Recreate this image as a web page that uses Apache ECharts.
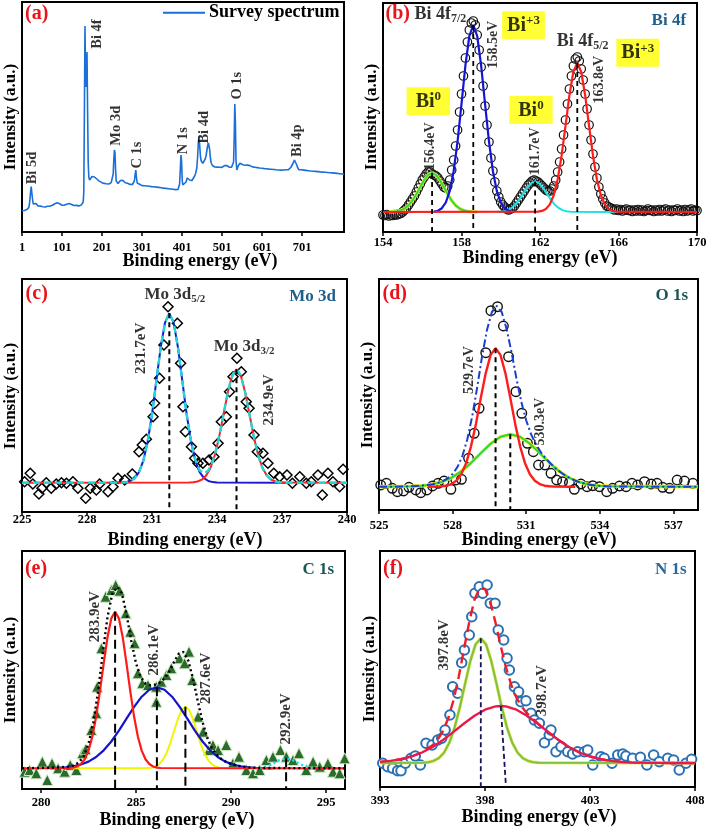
<!DOCTYPE html>
<html><head><meta charset="utf-8">
<script src="https://cdn.jsdelivr.net/npm/echarts@6/dist/echarts.min.js"></script>
<style>html,body{margin:0;padding:0;background:#fff}#c{width:709px;height:829px}</style>
</head><body><div id="c"></div>
<script>
// ---------------- DATA ----------------
// (a) survey spectrum [binding energy, intensity a.u.]
const surveySpectrum = [[1,21.3],[4,21.8],[7,21.5],[10,22],[13,22.4],[16,22.9],[18,24.5],[20,29],[22,38],[24,45.5],[25.5,44],[27,34],[29,28],[31,26.5],[34,26.2],[36,28.5],[38,27],[41,26],[44,25.6],[47,25.9],[50,25.4],[53,25.2],[56,25.6],[59,25],[62,25.3],[65,25.8],[68,25.4],[71,25.9],[74,26.3],[77,26.8],[80,27.5],[83,28.3],[86,28.8],[89,29.2],[92,28.9],[95,28.2],[98,27.4],[101,26.8],[104,26.5],[107,26.9],[110,27.2],[113,27.8],[116,28.3],[119,28.6],[122,28.1],[125,27.5],[128,26.9],[131,26.5],[134,26.2],[137,26.6],[140,26.3],[143,26.1],[146,26.5],[149,26.9],[152,27.5],[154,30],[155.5,40],[157,120],[158.5,206],[160,150],[161.5,145],[163.5,180],[165,120],[166.5,70],[168,55],[170,52],[173,53.5],[176,55.5],[179,56],[182,55],[185,54.2],[188,53],[191,51.8],[194,50.9],[197,50.2],[200,49.6],[203,49.1],[206,48.6],[209,49.3],[212,48.2],[215,48.7],[218,48],[221,48.9],[224,49.4],[227,51],[229,58],[230.5,72],[232,82],[233.5,79],[235,62],[236.5,51],[238,49.3],[241,48.5],[244,50.2],[247,51.5],[250,52.5],[253,51.6],[256,50.4],[259,49.2],[262,49.8],[265,48.7],[268,48.3],[271,47.6],[274,48.4],[277,47.5],[280,48.3],[282,51],[284,58],[285.5,62],[287,55],[289,49],[292,47.2],[295,47.8],[298,46.9],[301,46.4],[304,47.1],[307,46.2],[310,46.8],[313,46],[316,46.5],[319,45.7],[322,46.3],[325,45.4],[328,46.1],[331,45.2],[334,45.8],[337,44.9],[340,45.5],[343,44.6],[346,45.1],[349,44.3],[352,44.8],[355,43.9],[358,44.5],[361,43.6],[364,44.2],[367,43.3],[370,43.8],[373,43],[376,43.5],[379,42.7],[382,43.1],[385,42.4],[388,42.8],[391,42.5],[393,43.5],[395,48],[397,65],[398.5,77],[400,70],[401.5,52],[403,47],[405,47.5],[408,48.2],[411,50],[414,54],[417,55.5],[420,52],[423,50.2],[426,51.5],[429,53],[432,55.5],[435,58.5],[438,64],[440,75],[442,90],[443.5,95.5],[445,88],[447,76],[449,71],[451,69.5],[453,68.7],[455,69],[457,70.5],[459,73],[461,76],[463,81],[465,86],[467,89],[468.5,88.7],[470,83],[472,74],[474,69],[477,66.5],[480,65.5],[483,65],[486,65.8],[489,64.9],[492,65.4],[495,64.8],[498,65.5],[501,64.6],[504,65.9],[507,66.4],[510,67.2],[513,66.5],[516,65.2],[519,64.8],[522,65.5],[525,64.9],[528,65.6],[530,70],[531.5,95],[533,128],[534.5,110],[536,72],[538,62],[540,64],[542,66.5],[544,68],[546,68.7],[548,67.5],[550,68.5],[553,67.2],[556,68],[559,66.8],[562,66.2],[565,66.9],[568,65.8],[571,66.4],[574,65.5],[577,65.1],[580,65.9],[583,64.8],[586,65.3],[589,64.4],[592,64.9],[595,64],[598,64.6],[601,63.7],[604,64.3],[607,63.4],[610,64],[613,63.2],[616,63.8],[619,62.9],[622,63.5],[625,62.7],[628,63.3],[631,62.5],[634,63],[637,62.2],[640,62.8],[643,62],[646,62.6],[649,61.9],[652,62.4],[655,62],[658,62.6],[661,62.2],[664,62.9],[667,62.3],[670,63.5],[673,64.5],[676,66],[679,69],[682,72],[684,72.7],[686,70],[688,67],[690,64.5],[693,62.3],[696,61.8],[699,62.2],[702,61.4],[705,61.9],[708,61],[711,61.6],[714,60.8],[717,61.3],[720,60.5],[723,61],[726,60.2],[729,60.8],[732,60],[735,60.6],[738,59.8],[741,60.4],[744,59.6],[747,60.1],[750,59.3],[753,59.9],[756,59.1],[759,59.7],[762,58.9],[765,59.5],[768,58.7],[771,59.3],[774,58.5],[777,59.1],[780,58.3],[783,58.9],[786,58.1],[789,58.6],[792,57.8],[795,58.3],[798,57.5],[801,58],[804,57.2],[806,57.6]];
const surveyTicks = [1,101,201,301,401,501,601,701];
const surveyPeakNames = ['Bi 5d','Bi 4f','Mo 3d','C 1s','N 1s','Bi 4d','O 1s','Bi 4p'];

// (b) Bi 4f
const bi4fStart = 154.0, bi4fStep = 0.1;
const bi4fMeasured = [17,16.5,17.5,16,17,16.5,17.5,17,18,18.5,20,22,24,27,30,33,36,40,44,48,52,55,58,60,60,58,57,56,54,51,48,45,44,46,52,62,72,86,102,120,138,156,174,190,202,209,211,207,197,182,165,146,126,107,90,74,61,50,41,35,30,27,25,23,22,23,24,26,29,32,35,38,41,44,47,49,51,52,51,50,48,46,44,42,41,41,43,46,52,60,70,83,97,112,128,143,156,166,173,175,171,163,152,138,123,107,92,78,65,54,45,38,33,29,26,25,24,23,22,23,21.5,22.5,21,22,23,21.5,22,20.5,22,21,22.5,21,22,20.5,21.5,23,21.5,22,20.5,22,21,22.5,21,22,23,21,22,20.5,22,21.5,23,21,22,20.5,22.5,21,22,23,21,22,21.5];
const bi4fBlue = [[156.6,20.4],[156.8,21.3],[157.0,23.8],[157.2,29.5],[157.4,40.9],[157.6,60.8],[157.8,90.7],[158.0,128],[158.2,166.6],[158.4,196],[158.6,207],[158.8,196],[159.0,166.6],[159.2,128],[159.4,90.7],[159.6,60.8],[159.8,40.9],[160.0,29.5],[160.2,23.8],[160.4,21.3],[160.6,20.4]];
const bi4fRed = [[154,20],[161.9,20.3],[162.1,21.1],[162.3,23],[162.5,27.6],[162.7,36.7],[162.9,52.5],[163.1,76.3],[163.3,106.1],[163.5,136.8],[163.7,160.2],[163.9,169],[164.1,160.2],[164.3,136.8],[164.5,106.1],[164.7,76.3],[164.9,52.5],[165.1,36.7],[165.3,27.6],[165.5,23],[165.7,21.1],[165.9,20.3],[170,20]];
const bi4fGreen = [[154.3,20.2],[154.5,20.3],[154.7,20.7],[154.9,21.7],[155.1,23.5],[155.3,26.6],[155.5,31.4],[155.7,37.7],[155.9,45],[156.1,52],[156.3,57.1],[156.5,59],[156.7,57.1],[156.9,52],[157.1,45],[157.3,37.7],[157.5,31.4],[157.7,26.6],[157.9,23.5],[158.1,21.7],[158.3,20.7],[158.5,20.3],[158.8,20]];
const bi4fCyan = [[159.8,20.2],[159.95,20.3],[160.15,20.8],[160.35,21.9],[160.55,24],[160.75,27.4],[160.95,32.4],[161.15,38.4],[161.35,44.4],[161.55,48.9],[161.75,50.6],[161.95,48.9],[162.15,44.4],[162.35,38.4],[162.55,32.4],[162.75,27.4],[162.95,24],[163.15,21.9],[163.35,20.8],[163.55,20.3],[166,20.1]];
const bi4fPeakX = [156.5,158.6,161.75,163.9];
const bi4fPeakY = [59,207,50.6,169];
const bi4fTicks = [154,158,162,166,170];

// (c) Mo 3d
const mo3dMeasured = [[225.12,30.3],[225.38,38.7],[225.5,28],[225.78,18],[225.92,23.7],[226.12,29.3],[226.35,23.7],[226.58,28],[226.82,29.3],[227.05,28.7],[227.35,30.3],[227.58,23.7],[227.94,13.7],[228.15,23.7],[228.43,22],[228.58,28],[228.97,20.3],[229.2,25.3],[229.43,33.7],[229.74,32],[230.09,38],[230.4,60.3],[230.55,67],[230.74,72.7],[231.05,95.3],[231.12,108.7],[231.35,133.7],[231.55,167],[231.74,205.3],[232.17,188.7],[232.32,148.7],[232.43,105.3],[232.54,80.3],[232.82,65.3],[232.97,53.7],[233.12,48.7],[233.35,48.7],[233.63,52],[233.86,55.3],[234.05,68.7],[234.2,90.3],[234.43,95.3],[234.58,120.3],[234.74,135.3],[234.92,153.7],[235.12,140.3],[235.35,110.3],[235.48,103.7],[235.71,77],[235.86,60.3],[236.12,58.7],[236.35,48.7],[236.62,38.7],[236.89,35.3],[237.23,37],[237.48,28.7],[237.82,35.3],[238.12,28.7],[238.35,30.3],[238.66,37],[238.86,17],[239.12,38.7],[239.35,30.3],[239.66,25.3],[239.82,42.7]];
const mo3dBlue = [[229,29.3],[229.6,29.4],[229.8,29.9],[230.0,31],[230.2,33.8],[230.4,39.9],[230.6,51.3],[230.8,70.5],[231.0,97.7],[231.2,131.1],[231.4,164.3],[231.6,189.4],[231.8,198.7],[232.0,189.4],[232.2,164.3],[232.4,131.1],[232.6,97.7],[232.8,70.5],[233.0,51.3],[233.2,39.9],[233.4,33.8],[233.6,31],[233.8,29.9],[234.0,29.4],[237.2,29.3]];
const mo3dRed = [[225,29.3],[232.7,29.4],[232.9,29.7],[233.1,30.5],[233.3,32.3],[233.5,36.4],[233.7,44],[233.9,56.9],[234.1,75.1],[234.3,97.5],[234.5,119.7],[234.7,136.5],[234.9,142.7],[235.1,136.5],[235.3,119.7],[235.5,97.5],[235.7,75.1],[235.9,56.9],[236.1,44],[236.3,36.4],[236.5,32.3],[236.7,30.5],[236.9,29.7],[237.1,29.4],[240,29.3]];
const mo3dEnvelope = [[225,29.3],[229.6,29.4],[229.8,29.9],[230.0,31],[230.2,33.8],[230.4,39.9],[230.6,51.3],[230.8,70.5],[231.0,97.7],[231.2,131.1],[231.4,164.3],[231.6,189.4],[231.8,198.7],[232.0,189.4],[232.2,164.3],[232.4,131.1],[232.6,97.7],[232.8,70.5],[233.0,52],[233.2,41.8],[233.4,38.5],[233.6,41.4],[233.8,50.4],[234.0,65.6],[234.2,86],[234.4,108.9],[234.6,129.1],[234.8,141.1],[234.9,142.7],[235.1,136.5],[235.3,119.7],[235.5,97.5],[235.7,75.1],[235.9,56.9],[236.1,44],[236.3,36.4],[236.5,32.3],[236.7,30.5],[236.9,29.7],[237.1,29.4],[240,29.3]];
const mo3dPeakX = [231.8,234.9];
const mo3dPeakY = [198.7,142.7];
const mo3dTicks = [225,228,231,234,237,240];

// (d) O 1s
const o1sMeasured = [[525.07,25],[525.3,26.7],[525.54,21.7],[525.75,18.3],[526,19],[526.22,22.7],[526.5,20],[526.7,17.3],[526.95,20],[527.18,24],[527.41,26.7],[527.65,29],[527.93,20.7],[528.13,30],[528.36,30.7],[528.65,51.7],[528.88,76.7],[529.08,101.7],[529.35,157.3],[529.56,199.3],[529.83,203.3],[530.07,184],[530.28,153.3],[530.58,118.3],[530.82,96.7],[531.05,66.7],[531.29,58.3],[531.5,45],[531.76,45],[532.01,36.7],[532.24,30],[532.48,28.3],[532.76,27.3],[532.96,20.7],[533.23,26],[533.48,23.3],[533.71,24.3],[533.98,23.3],[534.28,18.3],[534.52,21.7],[534.8,24],[535.07,23.3],[535.31,26.7],[535.54,25],[535.82,28.3],[536.09,26],[536.33,26.7],[536.56,22.7],[536.84,21.7],[537.15,30],[537.45,29],[537.79,26.7]];
const o1sRed = [[527.0,23.3],[527.35,23.4],[527.55,23.7],[527.75,24.3],[527.95,25.9],[528.15,29.2],[528.35,35.7],[528.55,46.8],[528.75,63.7],[528.95,86.1],[529.15,112.2],[529.35,136.9],[529.55,155.1],[529.75,161.7],[529.95,155.1],[530.15,136.9],[530.35,112.2],[530.55,86.1],[530.75,63.7],[530.95,46.8],[531.15,35.7],[531.35,29.2],[531.55,25.9],[531.75,24.3],[531.95,23.7],[532.15,23.4],[533.0,23.3]];
const o1sGreen = [[525,23.3],[526.35,23.7],[526.75,24.3],[527.15,25.5],[527.55,28],[527.95,32.2],[528.35,38.6],[528.75,47.1],[529.15,56.9],[529.55,66.3],[529.95,73.2],[530.35,75.7],[530.75,73.2],[531.15,66.3],[531.55,56.9],[531.95,47.1],[532.35,38.6],[532.75,32.2],[533.15,28],[533.55,25.5],[533.95,24.3],[534.35,23.7],[538,23.3]];
const o1sEnvelope = [[525,23.3],[526.0,23.4],[526.4,23.7],[527.0,25],[527.2,25.8],[527.4,27.1],[527.6,28.9],[527.8,31.7],[528.0,36],[528.2,43.1],[528.4,54.2],[528.6,70.8],[528.8,93.8],[529.0,122.4],[529.2,153.6],[529.4,180],[529.6,198],[529.8,204],[530.0,198],[530.2,181],[530.4,157.9],[530.6,131.6],[530.8,108.1],[531.0,89.5],[531.2,75.6],[531.4,65.4],[531.6,57.7],[531.8,51.5],[532.0,46.3],[532.2,41.6],[532.4,37.7],[532.6,34.3],[532.8,31.6],[533.0,29.3],[533.2,27.6],[533.4,26.3],[533.6,25.3],[533.8,24.6],[534.0,24.2],[534.4,23.6],[535,23.4],[538,23.3]];
const o1sPeakX = [529.75,530.35];
const o1sPeakY = [161.7,75.7];
const o1sTicks = [525,528,531,534,537];

// (e) C 1s
const c1sMeasured = [[279.14,17.3],[279.4,19],[279.75,15.7],[280.07,27.3],[280.33,9],[280.58,25.7],[280.9,20.7],[281.25,17.3],[281.54,24],[281.86,19],[282.18,35.7],[282.35,39.7],[282.65,59],[282.91,75.7],[282.96,102.3],[283.18,140.7],[283.4,192.3],[283.7,199],[283.93,204],[284.14,198.3],[284.46,175.7],[284.7,157.3],[284.93,145.7],[285.1,115.7],[285.33,105.7],[285.63,104],[286.07,102.3],[286.07,87.3],[286.33,107.3],[286.6,114],[286.86,120.7],[287.3,130.7],[287.56,125.7],[287.79,137.3],[287.96,109],[288.26,72.3],[288.53,57.3],[288.84,39],[289.05,44],[289.32,39],[289.75,44],[290.1,25.7],[290.42,32.3],[290.81,19],[291.16,15.7],[291.51,19],[291.86,29],[292.21,32.3],[292.6,39],[292.91,32.3],[293.26,29],[293.58,35.7],[293.96,19],[294.32,27.3],[294.67,22.3],[295.1,25.7],[295.37,17.3],[295.72,15.7],[295.98,30.7]];
const c1sRed = [[279,20.7],[281.5,21],[281.7,21.4],[281.9,22.5],[282.1,25],[282.3,29.8],[282.5,38.4],[282.7,52.3],[282.9,72.2],[283.1,97.6],[283.3,125.6],[283.5,151.8],[283.7,170.6],[283.9,177.3],[284.1,170.6],[284.3,151.8],[284.5,125.6],[284.7,97.6],[284.9,72.2],[285.1,52.3],[285.3,38.4],[285.5,29.8],[285.7,25],[285.9,22.5],[286.1,21.4],[286.3,21],[296,20.7]];
const c1sBlue = [[280.5,20.7],[280.9,21.2],[281.3,21.7],[281.7,22.7],[282.1,24.5],[282.5,27.4],[282.9,32],[283.3,38.7],[283.7,47.5],[284.1,58.3],[284.5,70.3],[284.9,82.1],[285.3,92.3],[285.7,99.3],[286.1,101.7],[286.5,99.3],[286.9,92.3],[287.3,82.1],[287.7,70.3],[288.1,58.3],[288.5,47.5],[288.9,38.7],[289.3,32],[289.7,27.4],[290.1,24.5],[290.5,22.7],[290.9,21.7],[291.3,21.2],[291.7,20.9],[292.2,20.7]];
const c1sYellow = [[281.5,20.7],[285.6,20.9],[285.8,21.3],[286.0,22.4],[286.2,24.6],[286.4,28.7],[286.6,35.7],[286.8,45.6],[287.0,57.7],[287.2,69.8],[287.4,78.9],[287.6,82.3],[287.8,78.9],[288.0,69.8],[288.2,57.7],[288.4,45.6],[288.6,35.7],[288.8,28.7],[289.0,24.6],[289.2,22.4],[289.4,21.3],[289.6,20.9],[290.5,20.7]];
const c1sCyan = [[291.5,20.7],[291.9,22.6],[292.2,25.2],[292.5,28.4],[292.9,30.7],[293.3,28.4],[293.6,25.2],[293.9,22.6],[294.3,21.0]];
const c1sEnvelope = [[279,20.7],[280.5,21.3],[281.0,21.7],[281.5,22.4],[281.75,23.7],[282.0,26.7],[282.25,33],[282.5,45.2],[282.75,66.1],[283.0,97.2],[283.25,135.6],[283.5,172],[283.75,195],[284.0,202],[284.25,196],[284.5,175.2],[284.75,148],[285.0,125.8],[285.25,111.9],[285.5,105.5],[285.75,103.8],[286.0,104.4],[286.25,106.4],[286.5,110.4],[286.75,117.6],[287.0,127],[287.25,135.3],[287.5,137],[287.75,128.4],[288.0,110.3],[288.25,88],[288.5,67.1],[288.75,51.2],[289.0,40.7],[289.25,34.1],[289.5,29.9],[289.75,27],[290.0,25.1],[290.5,22.7],[291.0,21.5],[291.5,21],[296,20.7]];
const c1sPeakX = [283.9,286.1,287.6,292.9];
const c1sPeakY = [177.3,101.7,82.3,30.7];
const c1sTicks = [280,285,290,295];

// (f) N 1s
const n1sMeasured = [[393.13,23.7],[393.37,20.3],[393.6,18.7],[393.84,16.3],[394,16.3],[394.21,23.7],[394.48,28.7],[394.68,31],[394.92,22],[395.19,43.7],[395.48,42],[395.75,47],[395.94,48.7],[396.1,57],[396.33,72],[396.46,100.3],[396.7,93.7],[396.89,124.3],[397.02,137],[397.25,152],[397.37,170.3],[397.52,193.7],[397.73,200.3],[397.89,193.7],[398.1,202],[398.25,183.7],[398.48,183.7],[398.63,157],[398.89,147],[399.05,128.7],[399.16,117],[399.4,100.3],[399.6,95.3],[399.71,85.3],[399.95,86.3],[400.19,73.7],[400.35,67],[400.59,63.7],[400.83,44.3],[401.06,52],[401.14,57],[401.38,35.3],[401.62,40.3],[401.94,35.3],[402.17,33],[402.41,35.3],[402.73,35.3],[402.89,37],[403.13,22],[403.52,30.3],[403.68,28.7],[404.05,23.7],[404.32,32],[404.56,33],[404.71,31],[405.03,28.7],[405.4,29.7],[405.71,22],[406.03,32],[406.3,25.3],[406.7,28.7],[406.98,27],[407.25,17],[407.57,23.7],[407.84,27.7]];
const n1sGreen = [[393,24],[395.05,24.3],[395.3,24.8],[395.55,26.1],[395.8,28.9],[396.05,34.4],[396.3,44.2],[396.55,59.2],[396.8,79.5],[397.05,103.1],[397.3,125.9],[397.55,142.6],[397.8,148.7],[398.05,142.6],[398.3,125.9],[398.55,103.1],[398.8,79.5],[399.05,59.2],[399.3,44.2],[399.55,34.4],[399.8,28.9],[400.05,26.1],[400.3,24.8],[400.55,24.3],[408,24]];
const n1sRed = [[393,25.1],[393.5,26.1],[394,27.8],[394.5,30.5],[395,34.5],[395.5,40],[396,47],[396.5,55.1],[397,63.5],[397.5,71.3],[398,77.3],[398.5,80.6],[398.75,81],[399,80.6],[399.5,77.3],[400,71.3],[400.5,63.5],[401,55.1],[401.5,47],[402,40],[402.5,34.5],[403,30.5],[403.5,27.8],[404,26.1],[404.5,25.1],[405,24.5],[406,24.1],[407,24],[408,24]];
const n1sEnvelope = [[393,25.1],[393.5,26.1],[394,27.8],[394.5,30.5],[395,34.7],[395.5,41.7],[395.75,47.6],[396,56],[396.25,68.7],[396.5,86.8],[396.75,110.3],[397,137.8],[397.25,165.1],[397.5,187.3],[397.75,199],[398,198],[398.25,185.1],[398.5,164.4],[398.75,141],[399,119.4],[399.25,102],[399.5,89.3],[399.75,80.3],[400,73.8],[400.5,63.8],[401,55.1],[401.5,47],[402,40],[402.5,34.5],[403,30.5],[403.5,27.8],[404,26.1],[404.5,25.1],[405,24.5],[406,24.1],[408,24]];
const n1sPeakTopX = [397.8,398.75];
const n1sPeakBottomX = [397.8,399.0];
const n1sPeakY = [148.7,81];
const n1sTicks = [393,398,403,408];

// ---------------- CHART ----------------
const F = '"Liberation Serif","Times New Roman",Times,serif';
const chart = echarts.init(document.getElementById('c'), null, {renderer:'canvas'});

const gridBoxes = [
  {left:22, top:2, width:322, height:230},
  {left:383, top:3, width:314, height:229},
  {left:22, top:279, width:325, height:233},
  {left:379, top:279, width:319, height:231},
  {left:22, top:551, width:323, height:238},
  {left:380, top:551, width:315, height:236}
];
const xRanges = [[1,806],[154,170],[225,240],[525,538],[279,296],[393,408]];
const xTicks = [surveyTicks, bi4fTicks, mo3dTicks, o1sTicks, c1sTicks, n1sTicks];
const labelMargins = [9,4,1,9,7,7];

const grid = gridBoxes.map(g => Object.assign({show:true, borderColor:'#000', borderWidth:2, backgroundColor:'transparent', containLabel:false, outerBoundsMode:'none'}, g));
const xAxis = gridBoxes.map((g,i) => ({
  type:'value', gridIndex:i, min:xRanges[i][0], max:xRanges[i][1],
  axisLine:{show:true, onZero:false, lineStyle:{color:'#000', width:2}},
  axisTick:{show:true, inside:false, length:4, lineStyle:{color:'#000', width:1.5}, customValues:xTicks[i]},
  axisLabel:{show:true, customValues:xTicks[i], margin:labelMargins[i], color:'#000', fontFamily:F, fontWeight:'bold', fontSize:12.5},
  splitLine:{show:false}
}));
const yAxis = gridBoxes.map((g,i) => ({type:'value', gridIndex:i, min:0, max:g.height, show:false, splitLine:{show:false}}));

const series = [];
function ln(gi, data, color, width, type, extra) {
  series.push(Object.assign({type:'line', xAxisIndex:gi, yAxisIndex:gi, data:data, symbol:'none', showSymbol:false,
    silent:true, animation:false, emphasis:{disabled:true}, lineStyle:{color:color, width:width, type:type||'solid'}}, extra||{}));
}
function sc(gi, data, symbol, size, fill, stroke, bw) {
  series.push({type:'scatter', xAxisIndex:gi, yAxisIndex:gi, data:data, symbol:symbol, symbolSize:size, silent:true,
    animation:false, emphasis:{disabled:true}, itemStyle:{color:fill, borderColor:stroke, borderWidth:bw, opacity:1}});
}
function guides(gi, xTop, yTop, xBot, color, dash, width) {
  for (let i = 0; i < xTop.length; i++) ln(gi, [[xTop[i], yTop[i]], [xBot[i], 0]], color, width||2, dash);
}
function ann(gi, items) {
  series.push({type:'scatter', xAxisIndex:gi, yAxisIndex:gi, symbolSize:1, silent:true, animation:false,
    emphasis:{disabled:true}, itemStyle:{color:'rgba(0,0,0,0)'}, z:10,
    data: items.map(it => ({value:it.v, label:Object.assign({show:true, position:'inside', formatter:it.t,
      color:'#000', fontFamily:F, fontWeight:'bold', fontSize:15, rotate:it.r||0}, it.s||{})}))});
}
function richStyle(main, sub) {
  return {
    m:{fontSize:main, fontWeight:'bold', fontFamily:F, color:'#000'},
    s:{fontSize:sub, fontWeight:'bold', fontFamily:F, color:'#000', padding:[Math.round(main*0.5),0,0,0]},
    p:{fontSize:sub, fontWeight:'bold', fontFamily:F, color:'#000', padding:[0,0,Math.round(main*0.5),0]}
  };
}

// (a)
ln(0, surveySpectrum, '#1b6fd8', 1.6);
const surveyLabelPos = [[27.75,64],[188.5,198],[237,106.3],[289.5,77],[403.5,91.3],[457.8,104.7],[538.5,146.3],[688.5,91.3]];
ann(0, surveyPeakNames.map((n,i) => ({v:surveyLabelPos[i], t:n, r:90, s:{fontSize:14.5}})));

// (b)
sc(1, bi4fMeasured.map((v,i) => [+(bi4fStart + i*bi4fStep).toFixed(2), v]), 'circle', 8.5, 'rgba(0,0,0,0)', '#111', 1.2);
ln(1, bi4fGreen, '#f2f20a', 3.4);
ln(1, bi4fGreen, '#33d84a', 2);
ln(1, bi4fCyan, '#19e3e3', 2);
ln(1, bi4fBlue, '#1414d6', 2.2);
ln(1, bi4fRed, '#ff1c1c', 2.2);
guides(1, bi4fPeakX, bi4fPeakY, bi4fPeakX, '#000', [5,4], 1.8);
const rb = richStyle(18, 12);
const rbox = richStyle(20, 13);
ann(1, [
  {v:[156.92,217.3], t:'{m|Bi 4f}{s|7/2}', s:{rich:rb}},
  {v:[164.17,190.6], t:'{m|Bi 4f}{s|5/2}', s:{rich:rb}},
  {v:[159.65,187.3], t:'158.5eV', r:90, s:{fontSize:14}},
  {v:[165.02,152.3], t:'163.8eV', r:90, s:{fontSize:14}},
  {v:[156.39,85.6], t:'156.4eV', r:90, s:{fontSize:14}},
  {v:[161.78,80.6], t:'161.7eV', r:90, s:{fontSize:14}},
  {v:[161.16,206.8], t:'{m|Bi}{p|+3}', s:{rich:rbox, backgroundColor:'#ffff00', padding:[3,5,2,5]}},
  {v:[166.98,179.3], t:'{m|Bi}{p|+3}', s:{rich:rbox, backgroundColor:'#ffff00', padding:[3,5,2,5]}},
  {v:[156.31,130.8], t:'{m|Bi}{p|0}', s:{rich:rbox, backgroundColor:'#ffff00', padding:[3,9,2,9]}},
  {v:[161.54,122], t:'{m|Bi}{p|0}', s:{rich:rbox, backgroundColor:'#ffff00', padding:[3,9,2,9]}}
]);

// (c)
sc(2, mo3dMeasured, 'diamond', 10, 'rgba(0,0,0,0)', '#000', 1.5);
ln(2, mo3dBlue, '#1a1ad0', 2);
ln(2, mo3dRed, '#ff2020', 2);
ln(2, mo3dEnvelope, '#22d6d6', 2.4, [7,4]);
guides(2, mo3dPeakX, mo3dPeakY, mo3dPeakX, '#000', [5,4], 2);
const rc = richStyle(17, 11);
ann(2, [
  {v:[232.06,217], t:'{m|Mo 3d}{s|5/2}', s:{rich:rc}},
  {v:[235.25,165.3], t:'{m|Mo 3d}{s|3/2}', s:{rich:rc}},
  {v:[230.52,163.7], t:'231.7eV', r:90, s:{fontSize:15}},
  {v:[236.42,112], t:'234.9eV', r:90, s:{fontSize:15}}
]);

// (d)
sc(3, o1sMeasured, 'circle', 9.5, 'rgba(0,0,0,0)', '#111', 1.4);
ln(3, o1sGreen, '#f0f00a', 3.4);
ln(3, o1sGreen, '#22d84a', 2);
ln(3, o1sRed, '#ff1c1c', 2.4);
ln(3, o1sEnvelope, '#1a3fd0', 2, [8,3,2,3]);
guides(3, o1sPeakX, o1sPeakY, o1sPeakX, '#000', [5,4], 2);
ann(3, [
  {v:[528.67,140], t:'529.7eV', r:90, s:{fontSize:14}},
  {v:[531.59,88.3], t:'530.3eV', r:90, s:{fontSize:14}}
]);

// (e)
ln(4, c1sYellow, '#f4f400', 2);
ln(4, c1sBlue, '#1414c8', 2.2);
ln(4, c1sRed, '#ff1a1a', 2.2);
ln(4, c1sCyan, '#10e0f0', 2.4, [2,3]);
ln(4, c1sEnvelope, '#000', 2.4, [2,3]);
sc(4, c1sMeasured, 'triangle', 11, '#2b6b2b', '#cfe8c2', 1);
guides(4, c1sPeakX, c1sPeakY, c1sPeakX, '#000', [9,5], 2);
ann(4, [
  {v:[282.83,172.3], t:'283.9eV', r:90},
  {v:[285.98,139], t:'286.1eV', r:90},
  {v:[288.7,110.7], t:'287.6eV', r:90},
  {v:[292.92,70], t:'292.9eV', r:90}
]);

// (f)
ln(5, n1sEnvelope, '#ee1c25', 2.4, [10,6]);
sc(5, n1sMeasured, 'emptyCircle', 9.5, '#2a70b4', '#2a70b4', 1.6);
ln(5, n1sGreen, '#e6e64a', 3.2);
ln(5, n1sGreen, '#7cc243', 2);
ln(5, n1sRed, '#e8194b', 2.4);
guides(5, n1sPeakTopX, n1sPeakY, n1sPeakBottomX, '#14145a', [5,3], 1.8);
ann(5, [
  {v:[396.03,142], t:'397.8eV', r:90},
  {v:[400.74,96.3], t:'398.7eV', r:90}
]);

// ---------------- TEXT / DECORATION ----------------
function txt(x, y, text, font, fill, rot, align) {
  return {type:'text', x:x, y:y, rotation:rot||0, silent:true, z:100,
    style:{text:text, font:font, fill:fill||'#000', align:align||'center', verticalAlign:'middle',
      textAlign:align||'center', textVerticalAlign:'middle'}};
}
const bold = s => 'bold ' + s + 'px ' + F;
const graphics = [];
const letters = [['(a)',36.7,14],['(b)',397.7,14],['(c)',36.7,294],['(d)',394.8,294],['(e)',36,569],['(f)',393,569]];
letters.forEach(l => graphics.push(txt(l[1], l[2], l[0], bold(20), '#e8141c')));
const corner = [['Bi 4f',668.8,21,'#1f5f8b'],['Mo 3d',312.7,297,'#1f5f8b'],['O 1s',671.7,295.7,'#1b5656'],['C 1s',318.3,570,'#1b5656'],['N 1s',670.7,570,'#2a6a9a']];
corner.forEach(c => graphics.push(txt(c[1], c[2], c[0], bold(17), c[3])));
const xt = [[200,261],[540,258],[185,540],[539,540],[177,820],[539,817]];
xt.forEach(p => graphics.push(txt(p[0], p[1], 'Binding energy (eV)', bold(18))));
const yt = [[10.5,117],[371.5,117],[11,396],[367.7,395],[11,670],[369.5,669]];
yt.forEach(p => graphics.push(txt(p[0], p[1], 'Intensity (a.u.)', bold(17), '#000', Math.PI/2)));
graphics.push({type:'line', silent:true, z:100, shape:{x1:163, y1:12.7, x2:205, y2:12.7}, style:{stroke:'#1b6fd8', lineWidth:2}});
graphics.push(txt(209, 12.7, 'Survey spectrum', bold(18), '#000', 0, 'left'));

chart.setOption({
  animation:false,
  backgroundColor:'#fff',
  textStyle:{fontFamily:F},
  grid:grid, xAxis:xAxis, yAxis:yAxis, series:series,
  graphic:{elements:graphics}
});
</script>
</body></html>
